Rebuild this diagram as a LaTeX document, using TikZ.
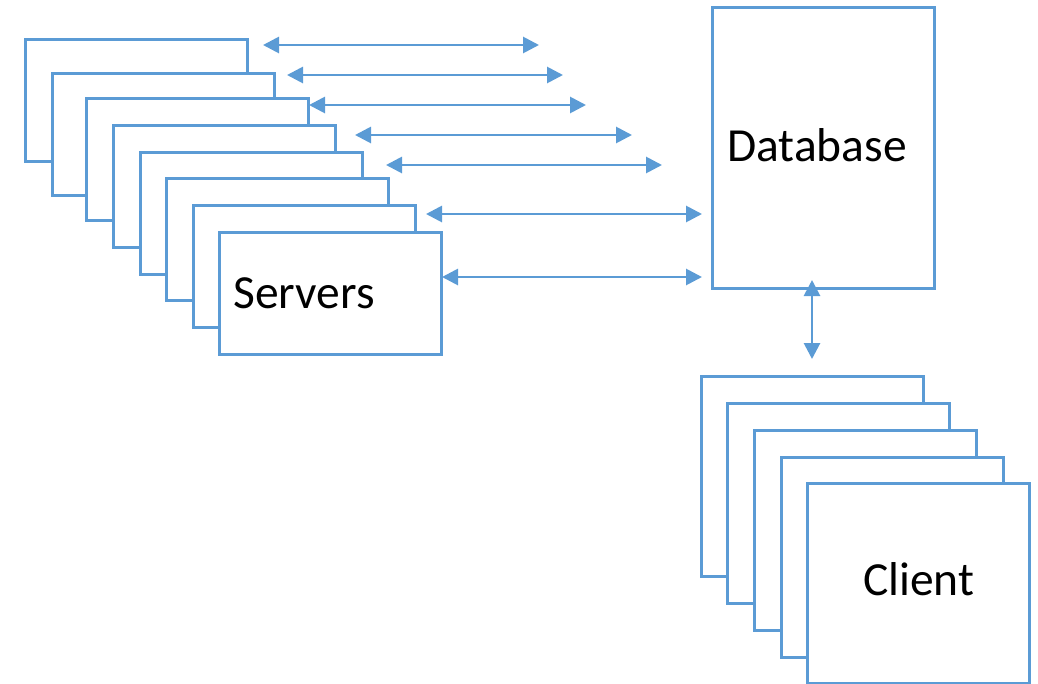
\documentclass[tikz,border=0pt]{standalone}
\usepackage{fontspec}
\setmainfont{Carlito}
\usetikzlibrary{arrows.meta}
\definecolor{lineblue}{HTML}{5B9BD5}
\tikzset{
  card/.style={draw=lineblue, line width=3pt, fill=white, inner sep=0pt, outer sep=0pt,
    anchor=north west, minimum width=222pt, minimum height=122pt},
  clientcard/.style={card, minimum height=200pt},
  dbbox/.style={card, minimum height=281pt},
  label/.style={anchor=base west, inner sep=0pt, font=\fontsize{47.5}{52}\selectfont},
  link/.style={draw=lineblue, line width=2.8pt, {Triangle[length=16pt,width=16pt]}-{Triangle[length=16pt,width=16pt]}}
}
\begin{document}
\begin{tikzpicture}[x=1pt,y=-1pt]
\useasboundingbox (0,0) rectangle (1038,683);
% stack of server cards, back to front
\node[card] (s1) at (25,39) {};
\node[card] (s2) at (52,73) {};
\node[card] (s3) at (86,98) {};
\node[card] (s4) at (113,125) {};
\node[card] (s5) at (140,152) {};
\node[card] (s6) at (166,178) {};
\node[card] (s7) at (193,205) {};
\node[card] (s8) at (219,232) {};
\node[label] (srvtext) at (233,308) {Servers};
% database
\node[dbbox] (db) at (712,7) {};
\node[label] (dbtext) at (727,161) {Database};
% stack of client cards
\node[clientcard] (c1) at (701,376) {};
\node[clientcard] (c2) at (727,403) {};
\node[clientcard] (c3) at (754,430) {};
\node[clientcard] (c4) at (781,457) {};
\node[clientcard] (c5) at (807,483) {};
\node[label] (cltext) at (863,595) {Client};
% arrow end points
\coordinate (a1l) at (263,45);  \coordinate (a1r) at (539,45);
\coordinate (a2l) at (287,75);  \coordinate (a2r) at (563,75);
\coordinate (a3l) at (309,105); \coordinate (a3r) at (586,105);
\coordinate (a4l) at (355,135); \coordinate (a4r) at (632,135);
\coordinate (a5l) at (386,165); \coordinate (a5r) at (662,165);
\coordinate (a6l) at (426,214); \coordinate (a6r) at (702,214);
\coordinate (a7l) at (442,277); \coordinate (a7r) at (702,277);
\coordinate (vt) at (812,280);  \coordinate (vb) at (812,359);
% connections
\draw[link] (a1l) -- (a1r);
\draw[link] (a2l) -- (a2r);
\draw[link] (a3l) -- (a3r);
\draw[link] (a4l) -- (a4r);
\draw[link] (a5l) -- (a5r);
\draw[link] (a6l) -- (a6r);
\draw[link] (a7l) -- (a7r);
\draw[link] (vt) -- (vb);
\end{tikzpicture}
\end{document}
